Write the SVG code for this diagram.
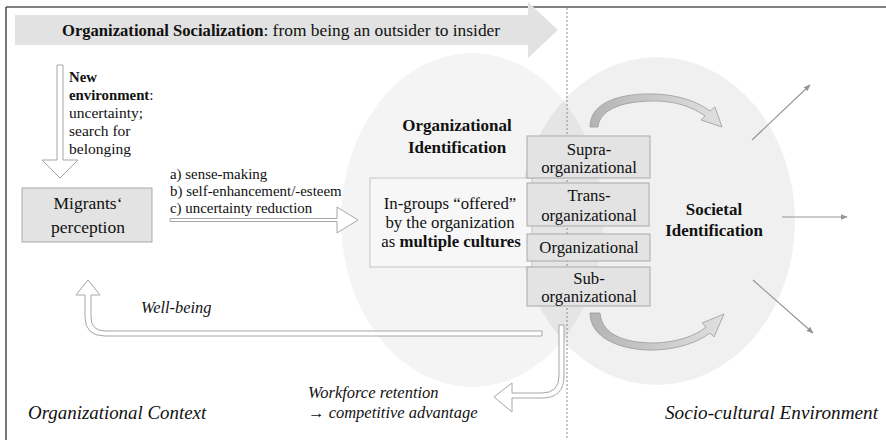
<svg xmlns="http://www.w3.org/2000/svg" width="886" height="440" viewBox="0 0 886 440">
<defs>
<style>
text{font-family:"Liberation Serif","Times New Roman",serif;fill:#111}
.b{font-weight:bold}
.i{font-style:italic}
.box{fill:#e3e3e3;stroke:#a9a9a9;stroke-width:1}
.hollow{fill:#fff;stroke:#a6a6a6;stroke-width:1}
.thin{stroke:#959595;stroke-width:1.2;fill:none;marker-end:url(#ah)}
.curv{fill:url(#cg);stroke:#9a9a9a;stroke-width:0.8}
</style>
<marker id="ah" viewBox="0 0 10 10" refX="9" refY="5" markerWidth="7" markerHeight="7" orient="auto" markerUnits="userSpaceOnUse">
<path d="M0,1 L10,5 L0,9 Z" fill="#959595"/>
</marker>
<linearGradient id="cg" x1="0" y1="0" x2="1" y2="0">
<stop offset="0" stop-color="#b4b4b4"/>
<stop offset="1" stop-color="#e0e0e0"/>
</linearGradient>
</defs>

<g id="background">
<ellipse cx="472" cy="220" rx="131" ry="167" fill="#000" fill-opacity="0.045"/>
<ellipse cx="657" cy="221" rx="138" ry="164" fill="#000" fill-opacity="0.06"/>
</g>

<g id="frame">
<line x1="6" y1="7" x2="886" y2="7" stroke="#555" stroke-width="1.6"/>
<line x1="6" y1="7" x2="6" y2="440" stroke="#555" stroke-width="1.6"/>
<line x1="567" y1="8" x2="567" y2="440" stroke="#8a8a8a" stroke-width="1" stroke-dasharray="2,2"/>
</g>

<g id="socialization-banner">
<path d="M15,15 L528,15 L528,2 L558,30 L528,58 L528,45 L15,45 Z" fill="#e2e2e2"/>
<text x="62" y="36" font-size="17.4"><tspan class="b" font-size="16.6">Organizational Socialization</tspan>: from being an outsider to insider</text>
</g>

<g id="connectors">
<path class="hollow" d="M57,65 L63,65 L63,160 L78,160 L60,178 L42,160 L57,160 Z"/>
<path class="hollow" d="M170,218.5 L337,218.5 L337,207 L358,220 L337,233 L337,221.5 L170,221.5 Z"/>
<path class="hollow" d="M542,331 L105,331 Q91,331 91,317 L91,295 L100,295 L88,280 L76,295 L85,295 L85,317 Q85,336 105,336 L542,336 Z"/>
<path class="hollow" d="M559,325 L564,325 L564,376 Q564,398 542,398 L512,398 L512,412 L494,397 L512,383 L512,393 L542,393 Q559,393 559,376 Z"/>
<path class="curv" d="M590,127 C590,100 625,93 655,94 C680,95 698,102 710,111 L715,107 L722,127 L701,120 L705,116 C693,107 675,101 655,101 C625,101 600,108 598,127 Z"/>
<path class="curv" d="M590,313 C590,340 625,351 655,350 C680,349 698,342 710,333 L714,337 L724,314 L702,323 L706,327 C695,336 678,342 655,343 C625,343 602,335 600,313 Z"/>
<line class="thin" x1="752" y1="140" x2="810" y2="85"/>
<line class="thin" x1="782" y1="217" x2="847" y2="217"/>
<line class="thin" x1="753" y1="280" x2="813" y2="333"/>
</g>

<g id="new-environment" font-size="15.5">
<text x="69" y="82" class="b" font-size="14.8">New</text>
<text x="69" y="100"><tspan class="b" font-size="14.8">environment</tspan>:</text>
<text x="69" y="118">uncertainty;</text>
<text x="69" y="136">search for</text>
<text x="69" y="154">belonging</text>
</g>

<g id="migrants-perception">
<rect class="box" x="22" y="188" width="130" height="54"/>
<text x="88" y="209" font-size="17.5" text-anchor="middle">Migrants‘</text>
<text x="88" y="233" font-size="17.5" text-anchor="middle">perception</text>
</g>

<g id="mechanisms" font-size="14.9">
<text x="170" y="179">a) sense-making</text>
<text x="170" y="196">b) self-enhancement/-esteem</text>
<text x="170" y="213">c) uncertainty reduction</text>
</g>

<g id="org-identification" font-size="17" class="b">
<text x="457" y="131" text-anchor="middle">Organizational</text>
<text x="457" y="153" text-anchor="middle">Identification</text>
</g>

<g id="in-groups">
<rect x="370" y="178" width="162" height="89" fill="#f7f7f7" stroke="#c6c6c6"/>
<g font-size="16.8" text-anchor="middle">
<text x="450" y="209">In-groups “offered”</text>
<text x="450" y="228">by the organization</text>
<text x="451" y="247">as <tspan class="b">multiple cultures</tspan></text>
</g>
</g>

<g id="supra">
<rect class="box" x="527" y="136" width="123" height="42"/>
<text x="589" y="155" font-size="16.8" text-anchor="middle">Supra-</text>
<text x="589" y="173" font-size="16.8" text-anchor="middle">organizational</text>
</g>
<g id="trans">
<rect class="box" x="527" y="183" width="122" height="43"/>
<text x="589" y="201" font-size="16.8" text-anchor="middle">Trans-</text>
<text x="589" y="221" font-size="16.8" text-anchor="middle">organizational</text>
</g>
<g id="organizational">
<rect class="box" x="527" y="234" width="123" height="27"/>
<text x="589" y="253" font-size="16.8" text-anchor="middle">Organizational</text>
</g>
<g id="sub">
<rect class="box" x="527" y="267" width="123" height="39"/>
<text x="589" y="284" font-size="16.8" text-anchor="middle">Sub-</text>
<text x="589" y="302" font-size="16.8" text-anchor="middle">organizational</text>
</g>

<g id="societal-identification" font-size="16.9" class="b">
<text x="714" y="215" text-anchor="middle">Societal</text>
<text x="714" y="236" text-anchor="middle">Identification</text>
</g>

<g id="labels" class="i">
<text x="141" y="313" font-size="16.4">Well-being</text>
<text x="308" y="398" font-size="16.5">Workforce retention</text>
<text x="308" y="418" font-size="16.5">→ competitive advantage</text>
<text x="28" y="419" font-size="18.9">Organizational Context</text>
<text x="665" y="419" font-size="19.2">Socio-cultural Environment</text>
</g>
</svg>
